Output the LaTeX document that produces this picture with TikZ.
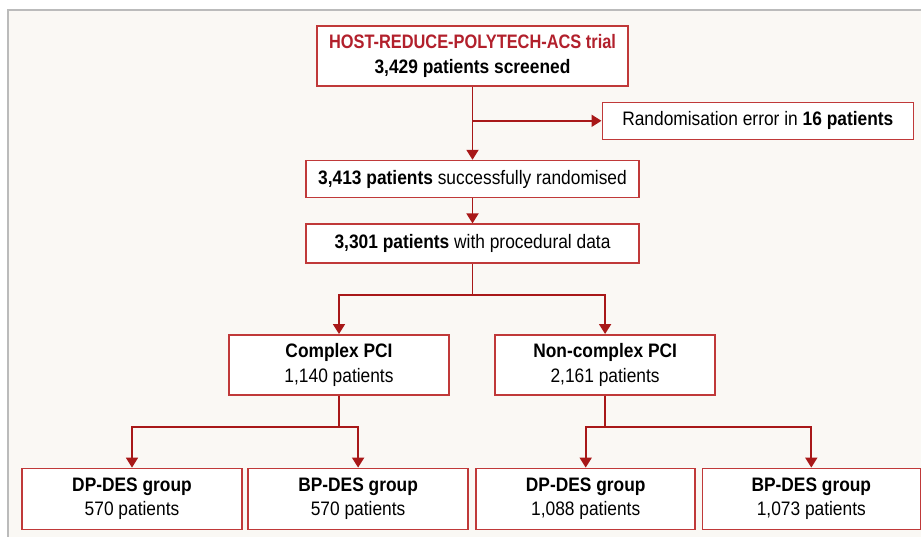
\documentclass[tikz,border=0pt]{standalone}
\usepackage{fontspec}
\setmainfont[FakeStretch=0.89]{Liberation Sans}
\newfontfamily\trialfont[FakeStretch=0.84]{Liberation Sans}
\usepackage{xcolor}
\usetikzlibrary{arrows.meta,positioning,calc}

\definecolor{boxred}{RGB}{192,57,57}
\definecolor{linkred}{RGB}{168,24,24}
\definecolor{titlered}{RGB}{178,32,44}
\definecolor{paper}{RGB}{250,248,244}
\definecolor{framegray}{RGB}{187,187,187}

\begin{document}
\begin{tikzpicture}[
  x=1pt, y=1pt,
  >={Triangle[width=12pt,length=10pt]},
  every node/.style={font=\fontsize{19.5}{24.5}\selectfont},
  box/.style={draw=boxred, line width=1.6pt, fill=white, align=center, inner sep=0pt},
  link/.style={draw=linkred, line width=1.8pt}
]
\useasboundingbox (0,0) rectangle (921,-536);
\fill[white] (0,0) rectangle (921,-536);
\path[fill=paper, draw=framegray, line width=1.2pt] (8,-10) rectangle (930,-545);

\node (screened) [box, minimum width=311pt, minimum height=60pt] at (472.5,-56)
      {\textcolor{titlered}{\trialfont\bfseries HOST-REDUCE-POLYTECH-ACS trial}\\ \textbf{3,429 patients screened}};
\node (randomised) [box, minimum width=333pt, minimum height=37pt, below=73pt of screened]
      {\textbf{3,413 patients} successfully randomised};
\node (procedural) [box, minimum width=333pt, minimum height=39pt, below=25pt of randomised]
      {\textbf{3,301 patients} with procedural data};

\coordinate (errsplit) at ([yshift=-34pt]screened.south);
\node (randerror) [box, minimum width=311pt, minimum height=37pt, right=129pt of errsplit]
      {Randomisation error in \textbf{16 patients}};

\node (complex)    [box, minimum width=220pt, minimum height=60pt, below=70pt of procedural, xshift=-133.5pt]
      {\textbf{Complex PCI}\\1,140 patients};
\node (noncomplex) [box, minimum width=220pt, minimum height=60pt, right=44.5pt of complex]
      {\textbf{Non-complex PCI}\\2,161 patients};

\node (dpcomplex)  [box, minimum width=220pt, minimum height=61pt, below=72pt of complex, xshift=-207pt]
      {\textbf{DP-DES group}\\570 patients};
\node (bpcomplex)  [box, minimum width=220pt, minimum height=61pt, right=4.5pt of dpcomplex]
      {\textbf{BP-DES group}\\570 patients};
\node (dpnon)      [box, minimum width=219pt, minimum height=61pt, right=6.5pt of bpcomplex]
      {\textbf{DP-DES group}\\1,088 patients};
\node (bpnon)      [box, minimum width=218pt, minimum height=61pt, right=5.5pt of dpnon]
      {\textbf{BP-DES group}\\1,073 patients};

\coordinate (pcifork)  at ([yshift=-31pt]procedural.south);
\coordinate (cfork)    at ([yshift=-31pt]complex.south);
\coordinate (ncfork)   at ([yshift=-31pt]noncomplex.south);

\draw[link,->] (screened)   -- (randomised);
\draw[link,->] (errsplit)   -- (randerror);
\draw[link,->] (randomised) -- (procedural);
\draw[link] (procedural) -- (pcifork);
\draw[link,->] (pcifork) -| (complex);
\draw[link,->] (pcifork) -| (noncomplex);
\draw[link] (complex) -- (cfork);
\draw[link,->] (cfork) -| (dpcomplex);
\draw[link,->] (cfork) -| (bpcomplex);
\draw[link] (noncomplex) -- (ncfork);
\draw[link,->] (ncfork) -| (dpnon);
\draw[link,->] (ncfork) -| (bpnon);
\end{tikzpicture}
\end{document}
